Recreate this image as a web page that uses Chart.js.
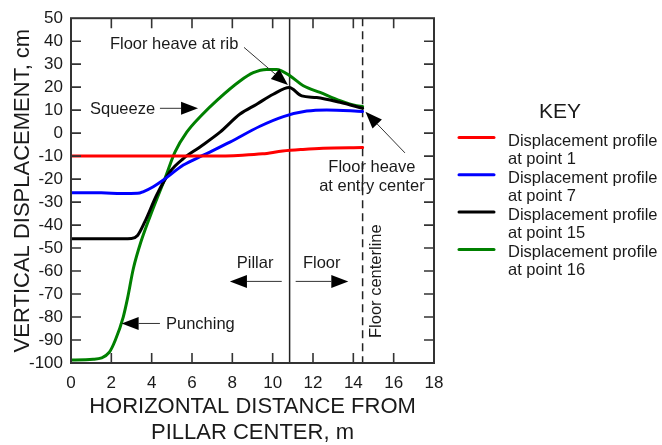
<!DOCTYPE html>
<html>
<head>
<meta charset="utf-8">
<script src="https://cdn.jsdelivr.net/npm/chart.js@4/dist/chart.umd.min.js"></script>
<style>
  html, body { margin: 0; padding: 0; background: #fff; }
  #wrap { width: 662px; height: 445px; }
</style>
</head>
<body>
<div id="wrap"><canvas id="c" width="662" height="445"></canvas></div>
<script>
// Horizontal distance from pillar center (m) and vertical displacement (cm)
const distP1  = [0, 4, 7, 8.5, 9.5, 10.5, 11.5, 12.5, 14.46];
const dispP1  = [-10, -10, -10, -9.6, -9, -7.8, -7.1, -6.6, -6.3];

const distP7  = [0, 1.5, 2.5, 3.3, 3.6, 4.08, 4.58, 5.57, 6.56, 7.88, 9.37, 10.53, 11.69, 12.68, 14.46];
const dispP7  = [-25.9, -25.9, -26.3, -26.2, -25.4, -23.3, -20.4, -13.9, -9.6, -3.9, 3, 7.2, 9.6, 10.1, 9.4];

const distP15 = [0, 2, 3.0, 3.3, 3.67, 4.25, 4.91, 5.57, 6.4, 7.39, 8.38, 9.21, 10.03, 10.82, 11.44, 12.18, 13.34, 14.46];
const dispP15 = [-46, -46, -45.8, -44.5, -38.4, -26.9, -16.8, -11.1, -6, 0.4, 8.3, 12.6, 16.9, 19.8, 16.2, 15.5, 13.4, 10.8];

const distP16 = [0, 1.1, 1.9, 2.2, 2.59, 2.8, 3.09, 3.46, 4.08, 4.66, 5.16, 5.74, 6.5, 7.25, 8.38, 9.04, 9.7, 10.2, 10.86, 11.52, 12.35, 13.34, 14.16, 14.46];
const dispP16 = [-98.7, -98.4, -95.3, -90, -80, -72, -59, -47.5, -32.6, -19.7, -8.2, 0.4, 8, 14.4, 22.7, 26.3, 27.7, 27.7, 24.9, 20.6, 17.7, 14.1, 11.9, 11.6];

const seriesLabels = ['Displacement profile at point 1', 'Displacement profile at point 7',
                      'Displacement profile at point 15', 'Displacement profile at point 16'];
const seriesColors = ['#ff0000', '#0000ff', '#000000', '#008000'];

// Pillar rib and floor (entry) centerline positions, m
const ribX = 10.84;
const centerlineX = 14.46;

const FONT = '"Liberation Sans", Arial, sans-serif';
const TEXT = '#1a1a1a';

function pts(xs, ys) { return xs.map((x, i) => ({ x: x, y: ys[i] })); }

const datasets = [
  [distP1, dispP1], [distP7, dispP7], [distP15, dispP15], [distP16, dispP16]
].map((s, i) => ({
  label: seriesLabels[i],
  data: pts(s[0], s[1]),
  borderColor: seriesColors[i],
  backgroundColor: seriesColors[i],
  borderWidth: 3,
  pointRadius: 0,
  showLine: true,
  cubicInterpolationMode: 'monotone',
  borderJoinStyle: 'round',
  borderCapStyle: 'round'
}));

// Callouts, placed in data units
const callouts = [
  { text: ['Floor heave at rib'], x: 1.93, y: 38.4, align: 'left', arrow: [8.58, 37.3, 10.76, 20.9] },
  { text: ['Squeeze'], x: 0.94, y: 10.5, align: 'left', arrow: [4.41, 10.8, 6.30, 10.8] },
  { text: ['Floor heave', 'at entry center'], x: 14.92, y: -15, align: 'center', arrow: [16.56, -8.6, 14.6, 9.3] },
  { text: ['Pillar'], x: 8.22, y: -56.5, align: 'left', arrow: [10.45, -64.5, 7.88, -64.5] },
  { text: ['Floor'], x: 11.5, y: -56.5, align: 'left', arrow: [11.14, -64.5, 13.75, -64.5] },
  { text: ['Punching'], x: 4.71, y: -83.2, align: 'left', arrow: [4.41, -82.8, 2.51, -82.8] }
];

function arrow(ctx, x1, y1, x2, y2) {
  const ang = Math.atan2(y2 - y1, x2 - x1);
  const len = 17, hw = 6.5;
  const bx = x2 - len * Math.cos(ang), by = y2 - len * Math.sin(ang);
  ctx.strokeStyle = '#333';
  ctx.lineWidth = 1;
  ctx.beginPath();
  ctx.moveTo(x1, y1);
  ctx.lineTo(bx, by);
  ctx.stroke();
  ctx.fillStyle = '#000';
  ctx.beginPath();
  ctx.moveTo(x2, y2);
  ctx.lineTo(bx + hw * Math.sin(ang), by - hw * Math.cos(ang));
  ctx.lineTo(bx - hw * Math.sin(ang), by + hw * Math.cos(ang));
  ctx.closePath();
  ctx.fill();
}

const framePlugin = {
  id: 'frame',
  beforeDatasetsDraw(chart) {
    const { ctx, chartArea: a, scales: { x } } = chart;
    ctx.save();
    // pillar rib
    ctx.strokeStyle = '#222';
    ctx.lineWidth = 1.5;
    const rx = x.getPixelForValue(ribX);
    ctx.beginPath(); ctx.moveTo(rx, a.top); ctx.lineTo(rx, a.bottom); ctx.stroke();
    // floor centerline
    const cx = x.getPixelForValue(centerlineX);
    ctx.setLineDash([8, 5]);
    ctx.beginPath(); ctx.moveTo(cx, a.top); ctx.lineTo(cx, a.bottom); ctx.stroke();
    ctx.restore();
  },
  afterDatasetsDraw(chart) {
    const { ctx, chartArea: a, scales: { x, y } } = chart;
    ctx.save();
    // frame
    ctx.strokeStyle = '#333';
    ctx.lineWidth = 2;
    ctx.strokeRect(a.left, a.top, a.right - a.left, a.bottom - a.top);
    // inward tick marks on all four sides
    const tl = 10;
    ctx.lineWidth = 1.6;
    ctx.beginPath();
    x.ticks.forEach(t => {
      if (t.value <= x.min || t.value >= x.max) return;
      const px = x.getPixelForValue(t.value);
      ctx.moveTo(px, a.bottom); ctx.lineTo(px, a.bottom - tl);
      ctx.moveTo(px, a.top); ctx.lineTo(px, a.top + tl);
    });
    y.ticks.forEach(t => {
      if (t.value <= y.min || t.value >= y.max) return;
      const py = y.getPixelForValue(t.value);
      ctx.moveTo(a.left, py); ctx.lineTo(a.left + tl, py);
      ctx.moveTo(a.right, py); ctx.lineTo(a.right - tl, py);
    });
    ctx.stroke();

    // callouts
    ctx.font = '16.5px ' + FONT;
    ctx.textBaseline = 'middle';
    callouts.forEach(c => {
      ctx.textAlign = c.align;
      c.text.forEach((line, i) => {
        ctx.fillStyle = TEXT;
        ctx.fillText(line, x.getPixelForValue(c.x), y.getPixelForValue(c.y) + i * 18.5);
      });
      arrow(ctx, x.getPixelForValue(c.arrow[0]), y.getPixelForValue(c.arrow[1]),
                 x.getPixelForValue(c.arrow[2]), y.getPixelForValue(c.arrow[3]));
    });
    // centerline label
    ctx.save();
    ctx.translate(x.getPixelForValue(centerlineX) + 14, y.getPixelForValue(-64.4));
    ctx.rotate(-Math.PI / 2);
    ctx.textAlign = 'center';
    ctx.fillStyle = TEXT;
    ctx.fillText('Floor centerline', 0, 0);
    ctx.restore();
    ctx.restore();
  },
  afterDraw(chart) {
    const { ctx, chartArea: a } = chart;
    ctx.save();
    ctx.fillStyle = TEXT;
    // axis titles
    ctx.font = '22px ' + FONT;
    ctx.textAlign = 'center';
    ctx.textBaseline = 'middle';
    const mid = (a.left + a.right) / 2;
    ctx.fillText('HORIZONTAL DISTANCE FROM', mid, 407);
    ctx.fillText('PILLAR CENTER, m', mid, 433);
    ctx.save();
    ctx.translate(23, (a.top + a.bottom) / 2);
    ctx.rotate(-Math.PI / 2);
    ctx.fillText('VERTICAL DISPLACEMENT, cm', 0, 0);
    ctx.restore();

    // key
    ctx.font = '21px ' + FONT;
    ctx.fillText('KEY', 560, 112);
    ctx.font = '16.5px ' + FONT;
    ctx.textAlign = 'left';
    chart.data.datasets.forEach((ds, i) => {
      const top = 141 + i * 37.3;
      ctx.strokeStyle = ds.borderColor;
      ctx.lineWidth = 3;
      ctx.lineCap = 'round';
      ctx.beginPath();
      ctx.moveTo(459, top - 3.5); ctx.lineTo(494, top - 3.5);
      ctx.stroke();
      const words = ds.label.split(' at ');
      ctx.fillStyle = TEXT;
      ctx.fillText(words[0], 508, top);
      ctx.fillText('at ' + words[1], 508, top + 18);
    });
    ctx.restore();
  }
};

new Chart(document.getElementById('c'), {
  type: 'scatter',
  data: { datasets: datasets },
  options: {
    responsive: false,
    animation: false,
    layout: { padding: { top: 15, right: 228, left: 0, bottom: 0 } },
    plugins: { legend: { display: false }, tooltip: { enabled: false } },
    scales: {
      x: {
        type: 'linear', min: 0, max: 18,
        ticks: { stepSize: 2, autoSkip: false, color: TEXT, font: { family: FONT, size: 17 }, padding: 10, maxRotation: 0 },
        grid: { drawOnChartArea: false, drawTicks: false },
        border: { display: false },
        afterFit(s) { s.height = 82; }
      },
      y: {
        type: 'linear', min: -100, max: 50,
        ticks: { stepSize: 10, autoSkip: false, color: TEXT, font: { family: FONT, size: 17 }, padding: 8 },
        grid: { drawOnChartArea: false, drawTicks: false },
        border: { display: false },
        afterFit(s) { s.width = 71; }
      }
    }
  },
  plugins: [framePlugin]
});
</script>
</body>
</html>
